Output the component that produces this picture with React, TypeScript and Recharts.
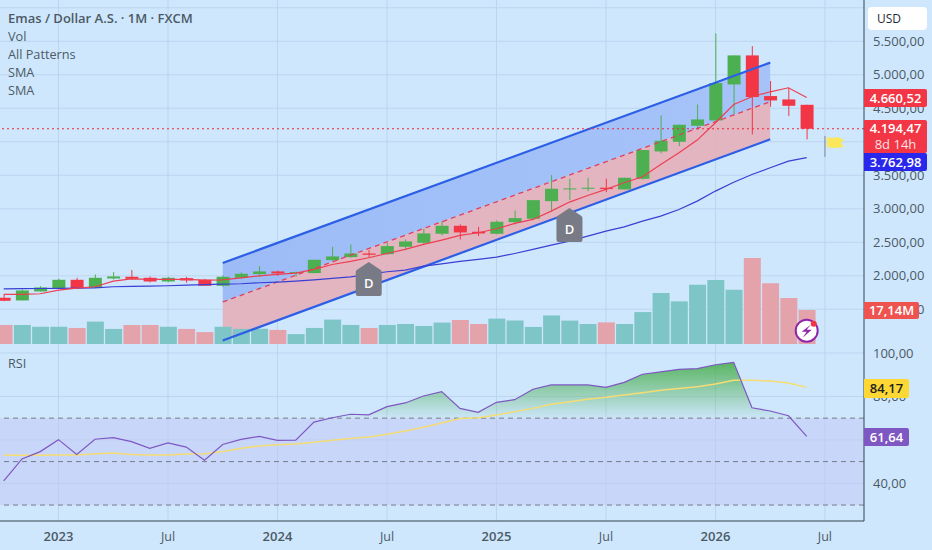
import React from 'react';
import {
  Area,
  Bar,
  CartesianGrid,
  Cell,
  ComposedChart,
  Line,
  ReferenceArea,
  ReferenceDot,
  ReferenceLine,
  XAxis,
  YAxis
} from 'recharts';

// monthly candles, Oct 2022 .. Jun 2026
const opens = [1672, 1632, 1766, 1816, 1940, 1821, 1960, 1985, 1970, 1915, 1965, 1940, 1851, 1970, 2025, 2065, 2040, 2040, 2234, 2279, 2333, 2323, 2433, 2493, 2627, 2746, 2657, 2627, 2801, 2851, 3114, 3289, 3299, 3314, 3289, 3448, 3856, 4000, 4239, 4318, 4856, 5289, 4682, 4632, 4552];
const closes = [1627, 1781, 1826, 1940, 1816, 1970, 1990, 1955, 1915, 1970, 1930, 1851, 1985, 2030, 2065, 2035, 2055, 2239, 2289, 2333, 2314, 2443, 2512, 2632, 2746, 2647, 2632, 2806, 2861, 3129, 3299, 3304, 3314, 3294, 3463, 3876, 4015, 4254, 4333, 4876, 5289, 4667, 4617, 4537, 4194.47];
const highs = [1721, 1796, 1846, 1955, 1970, 2020, 2055, 2085, 1990, 1985, 1985, 1955, 2005, 2050, 2144, 2080, 2065, 2239, 2433, 2468, 2383, 2493, 2542, 2702, 2816, 2766, 2731, 2826, 2975, 3129, 3503, 3448, 3463, 3448, 3463, 3876, 4393, 4254, 4557, 5617, 5289, 5428, 4906, 4806, 4552];
const lows = [1622, 1632, 1766, 1816, 1806, 1821, 1945, 1945, 1901, 1906, 1896, 1851, 1836, 1960, 1985, 1995, 1985, 2040, 2219, 2269, 2274, 2314, 2383, 2468, 2602, 2542, 2592, 2617, 2766, 2831, 2965, 3129, 3264, 3249, 3289, 3438, 3826, 3935, 4184, 4318, 4408, 4110, 4523, 4383, 4035];
const volumes = [9.6, 9.6, 8.7, 8.7, 8.1, 11.3, 7.6, 9.6, 9.6, 8.7, 7.6, 6.0, 8.7, 7.6, 7.7, 7.1, 5.0, 8.1, 12.3, 9.6, 8.1, 9.6, 10.1, 9.1, 10.8, 12.1, 10.1, 12.8, 11.8, 8.6, 14.4, 11.8, 10.1, 10.9, 10.1, 16.1, 25.7, 21.5, 29.9, 32.3, 27.4, 43.3, 30.6, 23.2, 17.14];
const smaFast = [1722, 1722, 1732, 1786, 1816, 1836, 1920, 1955, 1945, 1945, 1945, 1935, 1940, 1970, 2000, 2020, 2040, 2095, 2169, 2214, 2269, 2333, 2393, 2468, 2532, 2602, 2642, 2702, 2781, 2841, 2965, 3100, 3199, 3289, 3388, 3478, 3662, 3836, 4025, 4284, 4557, 4672, 4746, 4806, 4660.52];
const smaSlow = [1806, 1808, 1810, 1811, 1815, 1820, 1836, 1842, 1847, 1851, 1860, 1868, 1876, 1881, 1896, 1905, 1920, 1940, 1960, 1985, 2020, 2060, 2085, 2144, 2179, 2214, 2244, 2279, 2333, 2393, 2458, 2517, 2592, 2667, 2731, 2815, 2890, 2990, 3114, 3264, 3397, 3512, 3612, 3712, 3762.98];
const rsi = [41.1, 51.2, 54.6, 60.1, 53.3, 60.3, 61.0, 59.2, 56.1, 58.6, 56.7, 50.6, 57.9, 60.2, 61.6, 59.8, 59.9, 68.2, 70.2, 71.8, 71.5, 75.3, 77.0, 80.2, 82.2, 74.5, 72.7, 77.3, 78.5, 83.3, 85.3, 85.3, 85.3, 84.2, 86.5, 90.2, 91.3, 92.5, 92.8, 94.6, 95.7, 74.8, 73.3, 71.1, 61.64];
const rsiMa = [52.9, 52.9, 52.9, 53.0, 53.0, 53.6, 53.95, 53.3, 53.0, 53.0, 53.5, 53.6, 54.6, 56.1, 57.2, 57.8, 58.1, 58.9, 59.8, 60.6, 61.3, 62.6, 64.1, 65.8, 67.8, 69.8, 70.2, 71.4, 73.0, 74.5, 76.4, 77.6, 78.7, 79.6, 80.7, 81.7, 82.8, 83.7, 84.5, 85.7, 87.4, 87.4, 87.1, 86.2, 84.17];

const timeTicks = [3, 9, 15, 21, 27, 33, 39, 45];
const timeLabels = ['2023', 'Jul', '2024', 'Jul', '2025', 'Jul', '2026', 'Jul'];
const priceTicks = [6000, 5500, 5000, 4500, 4000, 3500, 3000, 2500, 2000, 1500];
const rsiTicks = [100, 80, 60, 40];
const rsiLevels = [70, 50, 30];

// channel drawing: two anchors, Oct 2023 and Apr 2026
const channelTimes = [12, 42];
const channelUpper = [2191, 5181];
const channelMid = [1609, 4599];
const channelLower = [1034, 4037];

const legendRows = ['Vol', 'All Patterns', 'SMA', 'SMA'];

const priceDomain = [967, 6116];
const volumeDomain = [-0.5, 173.4];
const rsiDomain = [22.65, 103.68];
const timeDomain = [-0.205, 47.14];

const FONT = '"Open Sans", sans-serif';
const BG = '#cfe7fd';
const GRID = '#bcd5ef';
const TEXT = '#4b5a65';
const UP = '#4caf50';
const DOWN = '#f23645';

const candleData = opens.map((open, i) => ({
  i,
  open,
  close: closes[i],
  high: highs[i],
  low: lows[i],
  range: [lows[i], highs[i]],
  volume: volumes[i],
  smaFast: smaFast[i],
  smaSlow: smaSlow[i]
}));

const rsiData = rsi.map((value, i) => ({
  i,
  rsi: value,
  ma: rsiMa[i],
  over: [70, Math.max(value, 70)]
}));

const channelData = channelTimes.map((i, k) => ({
  i,
  upper: channelUpper[k],
  mid: channelMid[k],
  lower: channelLower[k],
  blueBand: [channelMid[k], channelUpper[k]],
  pinkBand: [channelLower[k], channelMid[k]]
}));

const fmt = (v: number) => v.toLocaleString('de-DE', { minimumFractionDigits: 2, maximumFractionDigits: 2 });

const Candle = (props: any) => {
  const { x, y, width, height, payload } = props;
  const perUnit = height / (payload.high - payload.low);
  const color = payload.close >= payload.open ? UP : DOWN;
  const top = y + (payload.high - Math.max(payload.open, payload.close)) * perUnit;
  const bodyH = Math.max(Math.abs(payload.open - payload.close) * perUnit, 1);
  return (
    <g>
      <line x1={x + width / 2} x2={x + width / 2} y1={y} y2={y + height} stroke={color} strokeWidth={1} />
      <rect x={x} y={top} width={width} height={bodyH} fill={color} />
    </g>
  );
};

const PatternMark = ({ cx, cy }: any) => (
  <g>
    <path
      d={`M${cx} ${cy} L${cx + 12} ${cy + 8} Q${cx + 13} ${cy + 9} ${cx + 13} ${cy + 10} L${cx + 13} ${cy + 32} Q${cx + 13} ${cy + 34} ${cx + 11} ${cy + 34} L${cx - 11} ${cy + 34} Q${cx - 13} ${cy + 34} ${cx - 13} ${cy + 32} L${cx - 13} ${cy + 10} Q${cx - 13} ${cy + 9} ${cx - 12} ${cy + 8} Z`}
      fill="#787b86"
    />
    <text x={cx} y={cy + 26} textAnchor="middle" fill="#fff" fontSize={13} fontWeight={600} fontFamily={FONT}>D</text>
  </g>
);

const FlagMark = ({ cx, cy }: any) => (
  <g>
    <line x1={cx} x2={cx} y1={cy} y2={cy + 21} stroke="#7f8a90" strokeWidth={1} />
    <path d={`M${cx + 2} ${cy + 1} L${cx + 8} ${cy + 2} L${cx + 13} ${cy + 1} L${cx + 19} ${cy + 4} L${cx + 16} ${cy + 7} L${cx + 19} ${cy + 11} L${cx + 9} ${cy + 12} L${cx + 2} ${cy + 11} Z`} fill="#fbe75c" />
  </g>
);

const BoltMark = ({ cx, cy }: any) => (
  <g>
    <circle cx={cx} cy={cy} r={11} fill="#fff" stroke="#8e24aa" strokeWidth={2} />
    <path d={`M${cx + 4} ${cy - 6} L${cx - 5} ${cy + 1} L${cx} ${cy + 1} L${cx - 4} ${cy + 7} L${cx + 5} ${cy - 1} L${cx} ${cy - 1} Z`} fill="#8e24aa" />
    <circle cx={cx + 7} cy={cy - 7} r={3} fill="#f23645" />
  </g>
);

const TimeTick = ({ x, y, payload }: any) => {
  const label = timeLabels[timeTicks.indexOf(payload.value)];
  const isYear = label !== 'Jul';
  return (
    <text x={x} y={y} dy={12} textAnchor="middle" fill={TEXT} fontSize={isYear ? 13 : 12.5} fontWeight={isYear ? 600 : 400} fontFamily={FONT}>
      {label}
    </text>
  );
};

const boxBase: React.CSSProperties = {
  position: 'absolute',
  left: 864,
  width: 63,
  textAlign: 'center',
  color: '#fff',
  fontFamily: FONT,
  fontSize: 13,
  fontWeight: 600,
  borderRadius: '0 2px 2px 0',
  lineHeight: '18px'
};

const textRow: React.CSSProperties = {
  position: 'absolute',
  left: 8,
  fontFamily: FONT,
  fontSize: 12.7,
  color: TEXT,
  lineHeight: '18px',
  whiteSpace: 'nowrap'
};

export default function App() {
  return (
    <div style={{ position: 'absolute', left: 0, top: 0, width: 932, height: 550, background: BG, overflow: 'hidden' }}>
      <div style={{ position: 'absolute', left: 0, top: 0 }}>
        <ComposedChart width={932} height={345} data={candleData} margin={{ top: 0, right: 0, bottom: 0, left: 0 }}>
          <defs>
            <linearGradient id="blueFill" x1="0" y1="0" x2="1" y2="0">
              <stop offset="0%" stopColor="#9dbcf7" />
              <stop offset="100%" stopColor="#a6c3f9" />
            </linearGradient>
          </defs>
          <XAxis xAxisId="main" dataKey="i" type="number" domain={timeDomain} allowDataOverflow hide />
          <XAxis xAxisId="vol" dataKey="i" type="number" domain={timeDomain} allowDataOverflow hide />
          <YAxis
            yAxisId="price"
            orientation="right"
            width={68}
            domain={priceDomain}
            allowDataOverflow
            ticks={priceTicks}
            interval={0}
            tickFormatter={(v: number) => (v === 6000 ? '' : fmt(v))}
            tick={{ fill: TEXT, fontSize: 13, fontFamily: FONT }}
            tickLine={false}
            tickSize={0}
            tickMargin={9}
            axisLine={{ stroke: '#33474f' }}
          />
          <YAxis yAxisId="vol" hide domain={volumeDomain} allowDataOverflow />
          <CartesianGrid xAxisId="main" yAxisId="price" stroke={GRID} verticalValues={timeTicks} horizontalValues={priceTicks} />

          <Bar xAxisId="vol" yAxisId="vol" dataKey="volume" barSize={17} isAnimationActive={false}>
            {candleData.map(d => (
              <Cell key={d.i} fill={d.close >= d.open ? '#7ec5c8' : '#e4a3ab'} />
            ))}
          </Bar>

          <Area xAxisId="main" yAxisId="price" data={channelData} dataKey="blueBand" stroke="none" fill="url(#blueFill)" fillOpacity={1} activeDot={false} isAnimationActive={false} />
          <Area xAxisId="main" yAxisId="price" data={channelData} dataKey="pinkBand" stroke="none" fill="#e6aeb8" fillOpacity={0.88} activeDot={false} isAnimationActive={false} />
          <Line xAxisId="main" yAxisId="price" data={channelData} dataKey="upper" stroke="#2c5fe6" strokeWidth={2.2} dot={false} activeDot={false} isAnimationActive={false} />
          <Line xAxisId="main" yAxisId="price" data={channelData} dataKey="lower" stroke="#2c5fe6" strokeWidth={2.2} dot={false} activeDot={false} isAnimationActive={false} />
          <Line xAxisId="main" yAxisId="price" data={channelData} dataKey="mid" stroke="#e0405f" strokeWidth={1.3} strokeDasharray="5 4" dot={false} activeDot={false} isAnimationActive={false} />

          <Line xAxisId="main" yAxisId="price" dataKey="smaSlow" stroke="#3b3fd4" strokeWidth={1.2} dot={false} activeDot={false} isAnimationActive={false} />
          <Line xAxisId="main" yAxisId="price" dataKey="smaFast" stroke="#ee3f52" strokeWidth={1.2} dot={false} activeDot={false} isAnimationActive={false} />
          <Bar xAxisId="main" yAxisId="price" dataKey="range" barSize={13} shape={<Candle />} activeBar={false} isAnimationActive={false} />

          <ReferenceLine xAxisId="main" yAxisId="price" y={4194.47} stroke="#f0283c" strokeWidth={1.2} strokeDasharray="2 3" />
          <ReferenceDot xAxisId="main" yAxisId="price" x={20} y={2206} r={0} shape={<PatternMark />} />
          <ReferenceDot xAxisId="main" yAxisId="price" x={31} y={3012} r={0} shape={<PatternMark />} />
          <ReferenceDot xAxisId="main" yAxisId="price" x={45} y={4087} r={0} shape={<FlagMark />} />
          <ReferenceDot xAxisId="main" yAxisId="price" x={44} y={1181} r={0} shape={<BoltMark />} />
        </ComposedChart>
      </div>

      <div style={{ position: 'absolute', left: 0, top: 345 }}>
        <ComposedChart width={932} height={205} data={rsiData} margin={{ top: 0, right: 0, bottom: 0, left: 0 }}>
          <defs>
            <linearGradient id="overFill" x1="0" y1="0" x2="0" y2="1">
              <stop offset="0%" stopColor="#4caf50" stopOpacity={0.9} />
              <stop offset="100%" stopColor="#4caf50" stopOpacity={0.03} />
            </linearGradient>
          </defs>
          <XAxis
            dataKey="i"
            type="number"
            domain={timeDomain}
            allowDataOverflow
            ticks={timeTicks}
            interval={0}
            height={29}
            tick={<TimeTick />}
            tickLine={false}
            axisLine={{ stroke: '#33474f' }}
          />
          <YAxis
            orientation="right"
            width={68}
            domain={rsiDomain}
            allowDataOverflow
            ticks={rsiTicks}
            interval={0}
            tickFormatter={fmt}
            tick={{ fill: TEXT, fontSize: 13, fontFamily: FONT }}
            tickLine={false}
            tickSize={0}
            tickMargin={9}
            axisLine={{ stroke: '#33474f' }}
          />
          <CartesianGrid stroke={GRID} verticalValues={timeTicks} horizontalValues={rsiTicks} />
          <ReferenceArea y1={30} y2={70} fill="#c3c9f6" fillOpacity={0.55} stroke="none" />
          {rsiLevels.map(level => (
            <ReferenceLine key={level} y={level} stroke="#787b86" strokeDasharray="5 4" />
          ))}
          <Area dataKey="over" stroke="none" fill="url(#overFill)" fillOpacity={1} activeDot={false} isAnimationActive={false} />
          <Line dataKey="ma" stroke="#f5dc73" strokeWidth={1.5} dot={false} activeDot={false} isAnimationActive={false} />
          <Line dataKey="rsi" stroke="#7e57c2" strokeWidth={1.2} dot={false} activeDot={false} isAnimationActive={false} />
        </ComposedChart>
      </div>

      <div style={{ ...textRow, top: 9, fontSize: 13, fontWeight: 600 }}>Emas / Dollar A.S. · 1M · FXCM</div>
      {legendRows.map((row, k) => (
        <div key={k} style={{ ...textRow, top: 27 + k * 18 }}>{row}</div>
      ))}
      <div style={{ ...textRow, top: 354 }}>RSI</div>

      <div style={{ position: 'absolute', left: 868, top: 7, width: 59, height: 23, background: '#fff', borderRadius: 4, fontFamily: FONT, fontSize: 12, color: '#1f2a33', lineHeight: '23px', textIndent: 9 }}>USD</div>
      <div style={{ ...boxBase, top: 89, height: 18, background: '#f23645' }}>{fmt(smaFast[44])}</div>
      <div style={{ ...boxBase, top: 120, height: 33, background: '#f23645' }}>
        <div style={{ lineHeight: '17px' }}>{fmt(closes[44])}</div>
        <div style={{ lineHeight: '15px', fontWeight: 400, opacity: 0.85 }}>8d 14h</div>
      </div>
      <div style={{ ...boxBase, top: 153, height: 18, background: '#2a27ec' }}>{fmt(smaSlow[44])}</div>
      <div style={{ ...boxBase, top: 302, width: 55, height: 17, background: '#ef5350', lineHeight: '17px' }}>17,14M</div>
      <div style={{ ...boxBase, top: 379, width: 45, height: 19, background: '#fdd835', color: '#1f1f1f' }}>{fmt(rsiMa[44])}</div>
      <div style={{ ...boxBase, top: 428, width: 45, height: 18, background: '#7e57c2' }}>{fmt(rsi[44])}</div>
    </div>
  );
}
